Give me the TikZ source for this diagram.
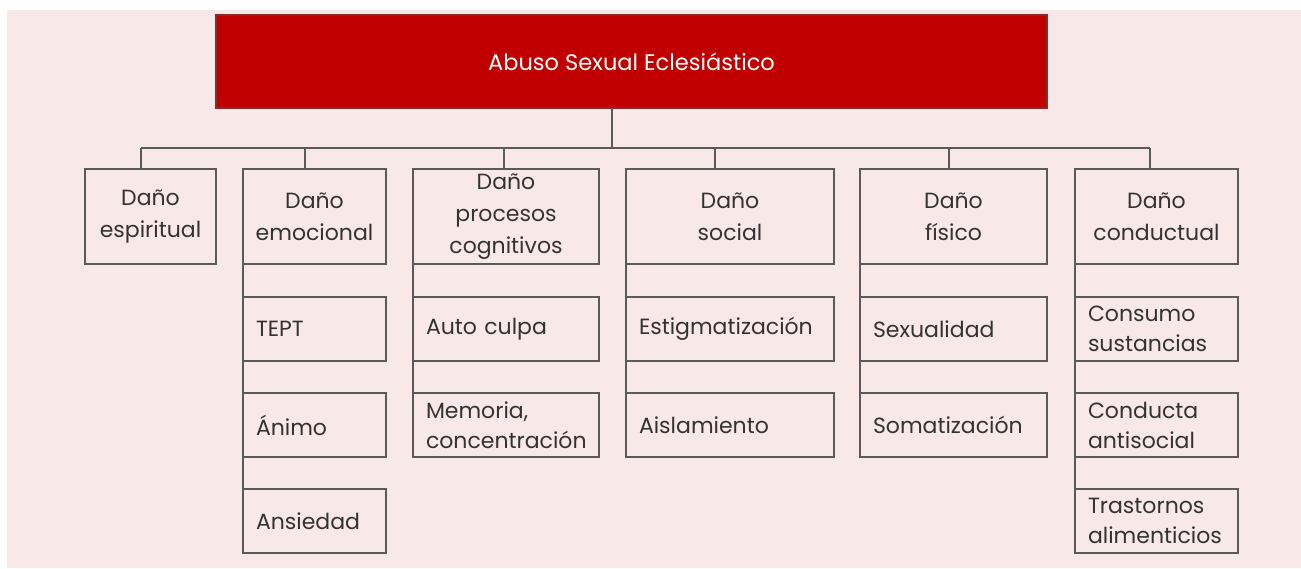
\documentclass[tikz,border=0pt]{standalone}
\usepackage{fontspec}
\setmainfont{Poppins}
\definecolor{bgpink}{HTML}{F9E8E8}
\definecolor{topred}{HTML}{C00000}
\definecolor{topedge}{HTML}{8A2A2A}
\definecolor{boxgray}{HTML}{5A5A5A}
\definecolor{txtgray}{HTML}{333333}
\begin{document}
\begin{tikzpicture}[x=1pt,y=-1pt,
  every node/.style={inner sep=0pt, outer sep=0pt},
  boxbase/.style={draw=boxgray, line width=1.3pt, text=txtgray, anchor=north west},
  headbox/.style={boxbase, align=center, minimum height=95pt, font=\fontsize{22}{32}\selectfont},
  itembox/.style={boxbase, align=left, inner xsep=13pt, minimum height=64pt, font=\fontsize{22}{30}\selectfont},
  conn/.style={draw=boxgray, line width=1.3pt}
]
\useasboundingbox (0,0) rectangle (1301,568);
\fill[white] (0,0) rectangle (1301,568);
\fill[bgpink] (7,10) rectangle (1301,568);

\node[draw=topedge, line width=1.3pt, fill=topred, text=white, font=\fontsize{22.5}{28}\selectfont,
      minimum width=831pt, minimum height=93pt, anchor=north west] (top) at (216,15) {Abuso Sexual Eclesiástico};

% level 1
\node[headbox, minimum width=131pt] (esp) at (85,169) {Daño\\espiritual};
\node[headbox, minimum width=143pt] (emo) at (243,169) {Daño\\emocional};
\node[headbox, minimum width=186pt] (cog) at (413,169) {Daño\\procesos\\cognitivos};
\node[headbox, minimum width=208pt] (soc) at (626,169) {Daño\\social};
\node[headbox, minimum width=187pt] (fis) at (860,169) {Daño\\físico};
\node[headbox, minimum width=163pt] (con) at (1075,169) {Daño\\conductual};

% level 2
\node[itembox, text width=117pt] (tept) at (243,297) {TEPT};
\node[itembox, text width=117pt] (animo) at (243,393) {Ánimo};
\node[itembox, text width=117pt] (ansi) at (243,489) {Ansiedad};

\node[itembox, text width=160pt] (auto) at (413,297) {Auto culpa};
\node[itembox, text width=160pt] (memo) at (413,393) {Memoria,\\concentración};

\node[itembox, text width=182pt] (estig) at (626,297) {Estigmatización};
\node[itembox, text width=182pt] (aisl) at (626,393) {Aislamiento};

\node[itembox, text width=161pt] (sexu) at (860,297) {Sexualidad};
\node[itembox, text width=161pt] (soma) at (860,393) {Somatización};

\node[itembox, text width=137pt] (consu) at (1075,297) {Consumo\\sustancias};
\node[itembox, text width=137pt] (condu) at (1075,393) {Conducta\\antisocial};
\node[itembox, text width=137pt] (trast) at (1075,489) {Trastornos\\alimenticios};

% bus
\coordinate (t) at (612,148);
\coordinate (b1) at (141,148);
\coordinate (b2) at (305,148);
\coordinate (b3) at (504,148);
\coordinate (b4) at (715,148);
\coordinate (b5) at (949,148);
\coordinate (b6) at (1150,148);
\draw[conn] (t |- top.south) -- (t);
\draw[conn] (b1) -- (b6);
\draw[conn] (b1) -- (b1 |- esp.north);
\draw[conn] (b2) -- (b2 |- emo.north);
\draw[conn] (b3) -- (b3 |- cog.north);
\draw[conn] (b4) -- (b4 |- soc.north);
\draw[conn] (b5) -- (b5 |- fis.north);
\draw[conn] (b6) -- (b6 |- con.north);

% child spines
\draw[conn] (emo.south west) -- (ansi.north west);
\draw[conn] (cog.south west) -- (memo.north west);
\draw[conn] (soc.south west) -- (aisl.north west);
\draw[conn] (fis.south west) -- (soma.north west);
\draw[conn] (con.south west) -- (trast.north west);
\end{tikzpicture}
\end{document}
